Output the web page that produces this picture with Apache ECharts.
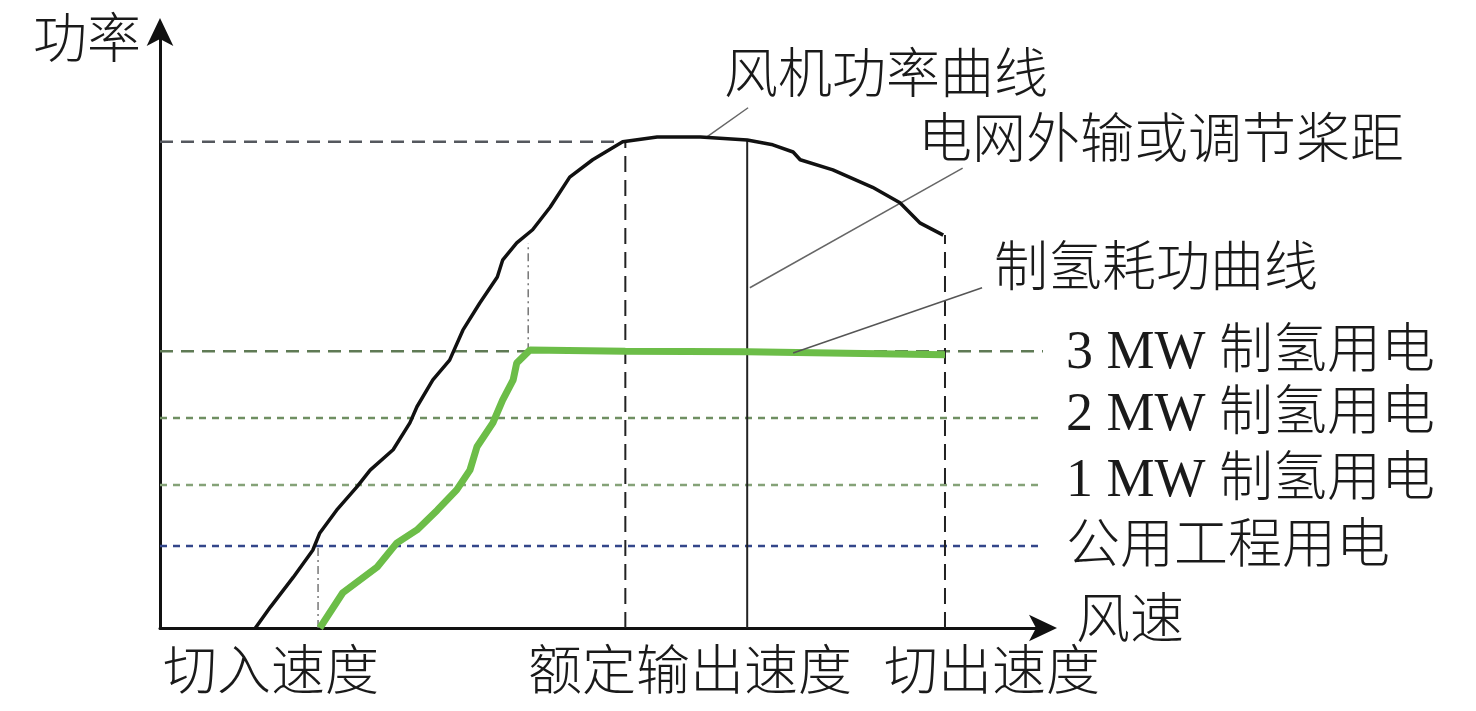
<!DOCTYPE html>
<html><head><meta charset="utf-8">
<script src="https://cdn.jsdelivr.net/npm/echarts@6/dist/echarts.min.js"></script>
<style>html,body{margin:0;padding:0;background:#fff}#c{width:1476px;height:711px}</style>
</head><body><div id="c"></div>
<script>
// ---- data (wind speed, power) in relative units 0-100 ----
const turbineCurve = [[10.8,0],[12.5,3.5],[15.1,8.5],[17.3,13.0],[18.1,15.9],[20.0,19.7],[22.3,23.6],[23.8,26.4],[26.4,29.8],[28.3,34.3],[29.1,37.0],[30.9,41.5],[32.8,44.8],[34.3,49.8],[36.2,54.3],[38.2,58.7],[38.8,61.5],[40.4,64.4],[42.2,66.6],[44.2,70.4],[46.4,75.4],[49.0,78.3],[52.4,81.3],[56.3,82.1],[61.2,82.1],[66.5,81.6],[69.4,80.8],[71.7,79.6],[72.5,78.3],[76.2,76.6],[80.7,73.7],[83.8,71.1],[86.1,67.7],[88.7,65.7]];
const h2Curve = [[18.1,0],[20.7,5.9],[24.6,10.2],[26.8,14.2],[29.1,16.4],[31.4,19.7],[33.6,23.1],[35.1,26.4],[35.9,30.3],[37.7,34.3],[38.8,38.1],[40.0,41.5],[40.4,44.3],[41.9,46.5],[52.7,46.3],[66.5,46.2],[88.9,45.7]];
const levelNames = ['额定功率','3 MW 制氢用电','2 MW 制氢用电','1 MW 制氢用电','公用工程用电'];
const levelValues = [81.3, 46.3, 35.1, 23.9, 13.7];
const speedNames = ['切入速度','额定输出速度','切出速度'];
const speedValues = [17.9, 52.7, 88.9];
const pitchSpeed = 66.5;
const h2FullSpeed = 41.7;
const pitchTop = 81.6;
const cutOutTop = 65.7;
const h2FullTop = 64.4;
const leaderTurbine = [[61.9,82.1],[66.6,87.0]];
const leaderGrid = [[66.8,56.9],[90.9,76.9]];
const leaderH2 = [[71.7,46.0],[93.1,56.9]];
const annotationTexts = ['风机功率曲线','电网外输或调节桨距','制氢耗功曲线'];
const axisNames = ['功率','风速'];

const chart = echarts.init(document.getElementById('c'));
const FONT = '"Liberation Serif","Noto Sans CJK SC",serif';
function seg(data, color, width, type, z){
  return {type:'line', data:data, symbol:'none', silent:true, z:z||2, clip:false,
    lineStyle:{color:color, width:width, type:type}};
}
function txt(text, left, cy, opts){
  return Object.assign({type:'text', left:left, top:cy-23, style:{text:text, font:'300 54px '+FONT, fill:'#1a1a1a', textVerticalAlign:'top'}}, opts||{});
}
const series = [
  seg([[0,levelValues[0]],[speedValues[1],levelValues[0]]], '#55585e', 2.5, [13,8]),
  seg([[0,levelValues[1]],[100,levelValues[1]]], '#5f7a55', 2.5, [13,8]),
  seg([[0,levelValues[2]],[100,levelValues[2]]], '#6f8f62', 2.5, [7,6]),
  seg([[0,levelValues[3]],[100,levelValues[3]]], '#85a278', 2.5, [7,6]),
  seg([[0,levelValues[4]],[100,levelValues[4]]], '#33468a', 2.5, [7,6]),
  seg([[speedValues[0],0],[speedValues[0],levelValues[4]]], '#777', 1.5, [8,4,2,4]),
  seg([[h2FullSpeed,levelValues[1]],[h2FullSpeed,h2FullTop]], '#777', 1.5, [8,4,2,4]),
  seg([[speedValues[1],0],[speedValues[1],levelValues[0]]], '#222', 2, [16,8]),
  seg([[pitchSpeed,0],[pitchSpeed,pitchTop]], '#222', 2, 'solid'),
  seg([[speedValues[2],0],[speedValues[2],cutOutTop]], '#222', 2, [16,8]),
  seg(leaderTurbine, '#666', 1.5, 'solid'),
  seg(leaderGrid, '#666', 1.5, 'solid'),
  seg(leaderH2, '#555', 1.5, 'solid', 5),
  seg(turbineCurve, '#111', 3.5, 'solid', 4),
  seg(h2Curve, '#6cbd48', 7, 'solid', 3)
];
function axisCfg(off){
  return {type:'value', min:0, max:100, splitLine:{show:false}, axisTick:{show:false}, axisLabel:{show:false},
    axisLine:{show:true, onZero:false, symbol:['none','arrow'], symbolSize:[20,28], symbolOffset:[0,off], lineStyle:{color:'#111', width:3}}};
}
chart.setOption({
  animation:false,
  grid:{left:160, right:433, top:30, bottom:83},
  xAxis:axisCfg(14),
  yAxis:axisCfg(12),
  series:series,
  graphic:[
    txt(axisNames[0], 33, 40),
    txt(axisNames[1], 1076, 620),
    txt(annotationTexts[0], 724, 75),
    txt(annotationTexts[1], 918, 140),
    txt(annotationTexts[2], 994, 268),
    txt(levelNames[1], 1066, 350),
    txt(levelNames[2], 1066, 412),
    txt(levelNames[3], 1066, 478),
    txt(levelNames[4], 1066, 545),
    txt(speedNames[0], 163, 672),
    txt(speedNames[1], 528, 672),
    txt(speedNames[2], 884, 672)
  ]
});
</script></body></html>
